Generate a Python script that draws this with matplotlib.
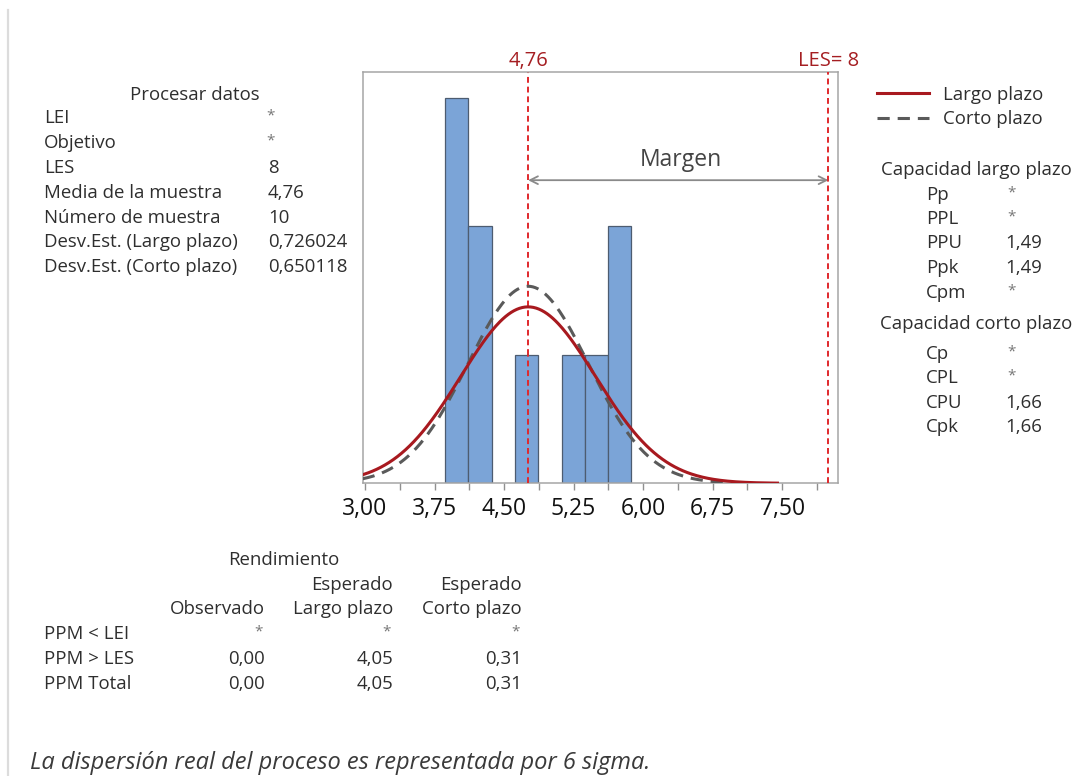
#%% Libraries
"""
Capability report (Minitab style) - histogram with fitted normals and text tables
"""
import numpy as np
import matplotlib
matplotlib.use('Agg')
import matplotlib.pyplot as plt
from matplotlib.lines import Line2D

plt.rcParams['font.family'] = ['Open Sans', 'DejaVu Sans']

#%% Data
bin_centers = [3.99, 4.24, 4.74, 5.25, 5.50, 5.75]
counts = [3, 2, 1, 1, 1, 2]
bin_width = 0.25
n_sample = 10
mean = 4.76
sd_long = 0.726024
sd_short = 0.650118
les = 8
curve_end_long = 7.45
curve_end_short = 7.10

xticks = [3.00, 3.75, 4.50, 5.25, 6.00, 6.75, 7.50]
xtick_labels = ['3,00', '3,75', '4,50', '5,25', '6,00', '6,75', '7,50']

proc_labels = ['LEI', 'Objetivo', 'LES', 'Media de la muestra', 'Número de muestra',
               'Desv.Est. (Largo plazo)', 'Desv.Est. (Corto plazo)']
proc_values = ['*', '*', '8', '4,76', '10', '0,726024', '0,650118']

long_labels = ['Pp', 'PPL', 'PPU', 'Ppk', 'Cpm']
long_values = ['*', '*', '1,49', '1,49', '*']
short_labels = ['Cp', 'CPL', 'CPU', 'Cpk']
short_values = ['*', '*', '1,66', '1,66']

ppm_labels = ['PPM < LEI', 'PPM > LES', 'PPM Total']
ppm_observed = ['*', '0,00', '0,00']
ppm_long = ['*', '4,05', '4,05']
ppm_short = ['*', '0,31', '0,31']

#%% Figure
W, H = 1078, 776
fig = plt.figure(figsize=(W / 100, H / 100), dpi=100)
fig.patch.set_facecolor('white')

def fx(x):
    return x / W

def fy(y):
    return 1 - y / H

txt = '#2e2e2e'
fs = 13.4
star_fs = 11
red_dark = '#a51e22'
red_ref = '#e0282c'

# page border line on the left
fig.add_artist(Line2D([fx(8), fx(8)], [fy(10), 0], color='#dcdcdc', lw=1.6))

"""
Histogram axes
"""
ax = fig.add_axes([fx(362.7), fy(483.3), (837.7 - 362.7) / W, (483.3 - 72.3) / H])
xmin, xmax = 2.975, 8.10
ax.bar(bin_centers, counts, width=bin_width, color='#7ba4d7', edgecolor='#4d5c70',
       linewidth=0.9, zorder=2)

scale = n_sample * bin_width
xl = np.linspace(xmin, curve_end_long, 300)
yl = scale * np.exp(-0.5 * ((xl - mean) / sd_long) ** 2) / (sd_long * np.sqrt(2 * np.pi))
xs = np.linspace(xmin, curve_end_short, 300)
ys = scale * np.exp(-0.5 * ((xs - mean) / sd_short) ** 2) / (sd_short * np.sqrt(2 * np.pi))
ax.plot(xs, ys, color='#5a5a5a', lw=2.2, ls=(0, (4, 2.6)), zorder=3)
ax.plot(xl, yl, color='#a8191f', lw=2.2, zorder=4)

ax.axvline(mean, ymin=0, ymax=1 / 3.2, color=red_ref, lw=1.4, ls=(0, (3, 2)), zorder=5)
ax.axvline(mean, ymin=1 / 3.2, ymax=1, color=red_ref, lw=1.4, ls=(0, (3, 2)), zorder=1)
ax.axvline(les, color=red_ref, lw=1.4, ls=(0, (3, 2)), zorder=5)

ax.text(mean, 1.027, '4,76', transform=ax.get_xaxis_transform(), ha='center', va='center',
        color=red_dark, fontsize=14.5)
ax.text(les, 1.027, 'LES= 8', transform=ax.get_xaxis_transform(), ha='center', va='center',
        color=red_dark, fontsize=14.5)

ax.annotate('', xy=(mean, 2.36), xytext=(les, 2.36),
            arrowprops=dict(arrowstyle='<->', color='#8a8a8a', lw=1.3,
                            shrinkA=0, shrinkB=0, mutation_scale=14))
ax.text((mean + les) / 2 + 0.03, 2.52, 'Margen', ha='center', va='center',
        color='#444444', fontsize=16.5)

ax.set_xlim(xmin, xmax)
ax.set_ylim(0, 3.2)
ax.set_yticks([])
ax.set_xticks(xticks)
ax.set_xticklabels(xtick_labels)
ax.set_xticks(np.arange(3.375, 8.0, 0.75), minor=True)
ax.tick_params(axis='x', which='both', length=5, width=1, color='#909090', pad=5,
               labelsize=16.5, labelcolor='#111111')
for s in ax.spines.values():
    s.set_color('#a5a5a5')
    s.set_linewidth(1.1)

"""
Left table - process data
"""
fig.text(fx(195), fy(95), 'Procesar datos', ha='center', va='center', color=txt, fontsize=fs)
row_y = [118, 143, 168, 193, 218, 242, 267]
for y, lab, val in zip(row_y, proc_labels, proc_values):
    fig.text(fx(44), fy(y), lab, ha='left', va='center', color=txt, fontsize=fs)
    if val == '*':
        fig.text(fx(271), fy(y - 2), val, ha='center', va='center', color='#777777', fontsize=star_fs)
    else:
        fig.text(fx(268), fy(y), val, ha='left', va='center', color=txt, fontsize=fs)

"""
Legend and right tables
"""
fig.add_artist(Line2D([fx(877), fx(929)], [fy(93), fy(93)], color='#a8191f', lw=2.2))
fig.add_artist(Line2D([fx(877), fx(929)], [fy(118), fy(118)], color='#5a5a5a', lw=2.2,
                      ls=(0, (4, 2.6))))
fig.text(fx(943), fy(95), 'Largo plazo', ha='left', va='center', color=txt, fontsize=fs)
fig.text(fx(943), fy(119), 'Corto plazo', ha='left', va='center', color=txt, fontsize=fs)

fig.text(fx(881), fy(170), 'Capacidad largo plazo', ha='left', va='center', color=txt, fontsize=fs)
for y, lab, val in zip([195, 219, 243, 268, 293], long_labels, long_values):
    fig.text(fx(926), fy(y), lab, ha='left', va='center', color=txt, fontsize=fs)
    if val == '*':
        fig.text(fx(1012), fy(y - 2), val, ha='center', va='center', color='#777777', fontsize=star_fs)
    else:
        fig.text(fx(1005), fy(y), val, ha='left', va='center', color=txt, fontsize=fs)

fig.text(fx(880), fy(324), 'Capacidad corto plazo', ha='left', va='center', color=txt, fontsize=fs)
for y, lab, val in zip([354, 378, 403, 427], short_labels, short_values):
    fig.text(fx(926), fy(y), lab, ha='left', va='center', color=txt, fontsize=fs)
    if val == '*':
        fig.text(fx(1012), fy(y - 2), val, ha='center', va='center', color='#777777', fontsize=star_fs)
    else:
        fig.text(fx(1005), fy(y), val, ha='left', va='center', color=txt, fontsize=fs)

"""
Bottom table - performance
"""
fig.text(fx(284), fy(560), 'Rendimiento', ha='center', va='center', color=txt, fontsize=fs)
col_x = [265, 393, 522]
fig.text(fx(col_x[1]), fy(585), 'Esperado', ha='right', va='center', color=txt, fontsize=fs)
fig.text(fx(col_x[2]), fy(585), 'Esperado', ha='right', va='center', color=txt, fontsize=fs)
for x, head in zip(col_x, ['Observado', 'Largo plazo', 'Corto plazo']):
    fig.text(fx(x), fy(609), head, ha='right', va='center', color=txt, fontsize=fs)
for y, lab, a, b, c in zip([634, 659, 684], ppm_labels, ppm_observed, ppm_long, ppm_short):
    fig.text(fx(44), fy(y), lab, ha='left', va='center', color=txt, fontsize=fs)
    for x, val in zip(col_x, [a, b, c]):
        if val == '*':
            fig.text(fx(x - 2), fy(y - 2), val, ha='right', va='center', color='#777777', fontsize=star_fs)
        else:
            fig.text(fx(x), fy(y), val, ha='right', va='center', color=txt, fontsize=fs)

"""
Caption
"""
fig.text(fx(30), fy(763), 'La dispersión real del proceso es representada por 6 sigma.',
         ha='left', va='center', color='#3a3a3a', fontsize=17, style='italic')

fig.savefig('out.png', dpi=100, facecolor='white')
